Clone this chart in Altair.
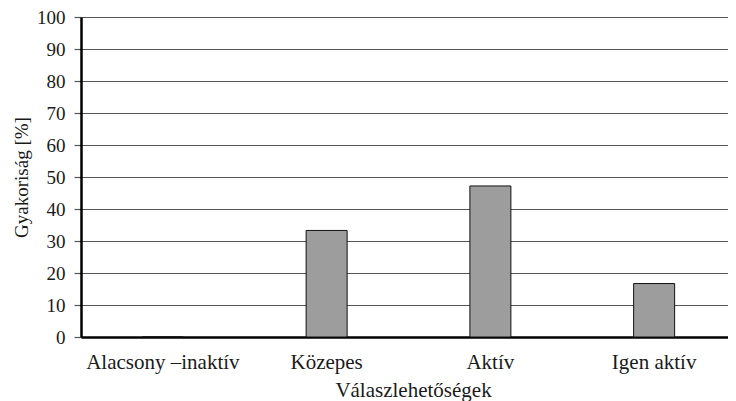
import altair as alt
import pandas as pd

categories = ["Alacsony –inaktív", "Közepes", "Aktív", "Igen aktív"]
values = [0, 33.3, 47.2, 16.7]
y_ticks = [0, 10, 20, 30, 40, 50, 60, 70, 80, 90, 100]

df = pd.DataFrame({"cat": categories, "val": values})

FONT = "Liberation Serif"

bars = alt.Chart(df).mark_bar(
    size=41, color="#9d9d9d", stroke="#111111", strokeWidth=1
).encode(
    x=alt.X("cat:N", sort=categories, title="Válaszlehetőségek",
            scale=alt.Scale(paddingInner=0, paddingOuter=0, range=[0, 655]),
            axis=alt.Axis(labelAngle=0, ticks=False, domainColor="#000000",
                          domainWidth=2.5, labelFontSize=21, labelFont=FONT,
                          labelColor="#1a1a1a", labelPadding=14,
                          titleFont=FONT, titleFontSize=21, titleFontWeight="normal",
                          titleColor="#1a1a1a", titlePadding=7, titleX=332,
                          grid=False)),
    y=alt.Y("val:Q", title="Gyakoriság [%]",
            scale=alt.Scale(domain=[0, 100], nice=False),
            axis=alt.Axis(values=y_ticks, grid=True, gridColor="#555555",
                          gridWidth=1.2, domainColor="#000000", domainWidth=2.5,
                          tickColor="#555555", tickSize=7, tickWidth=1.2,
                          labelFontSize=19, labelFont=FONT, labelColor="#1a1a1a",
                          labelPadding=9, titleFont=FONT, titleFontSize=19,
                          titleFontWeight="normal", titleColor="#1a1a1a",
                          titlePadding=5)),
)

chart = bars.properties(
    width=647, height=320,
    autosize=alt.AutoSizeParams(type="none"),
    padding={"left": 73, "top": 9, "right": 0, "bottom": 64},
).configure_view(stroke=None).configure(background="white")

chart.save("out.html", embed_options={"renderer": "svg", "actions": False})
